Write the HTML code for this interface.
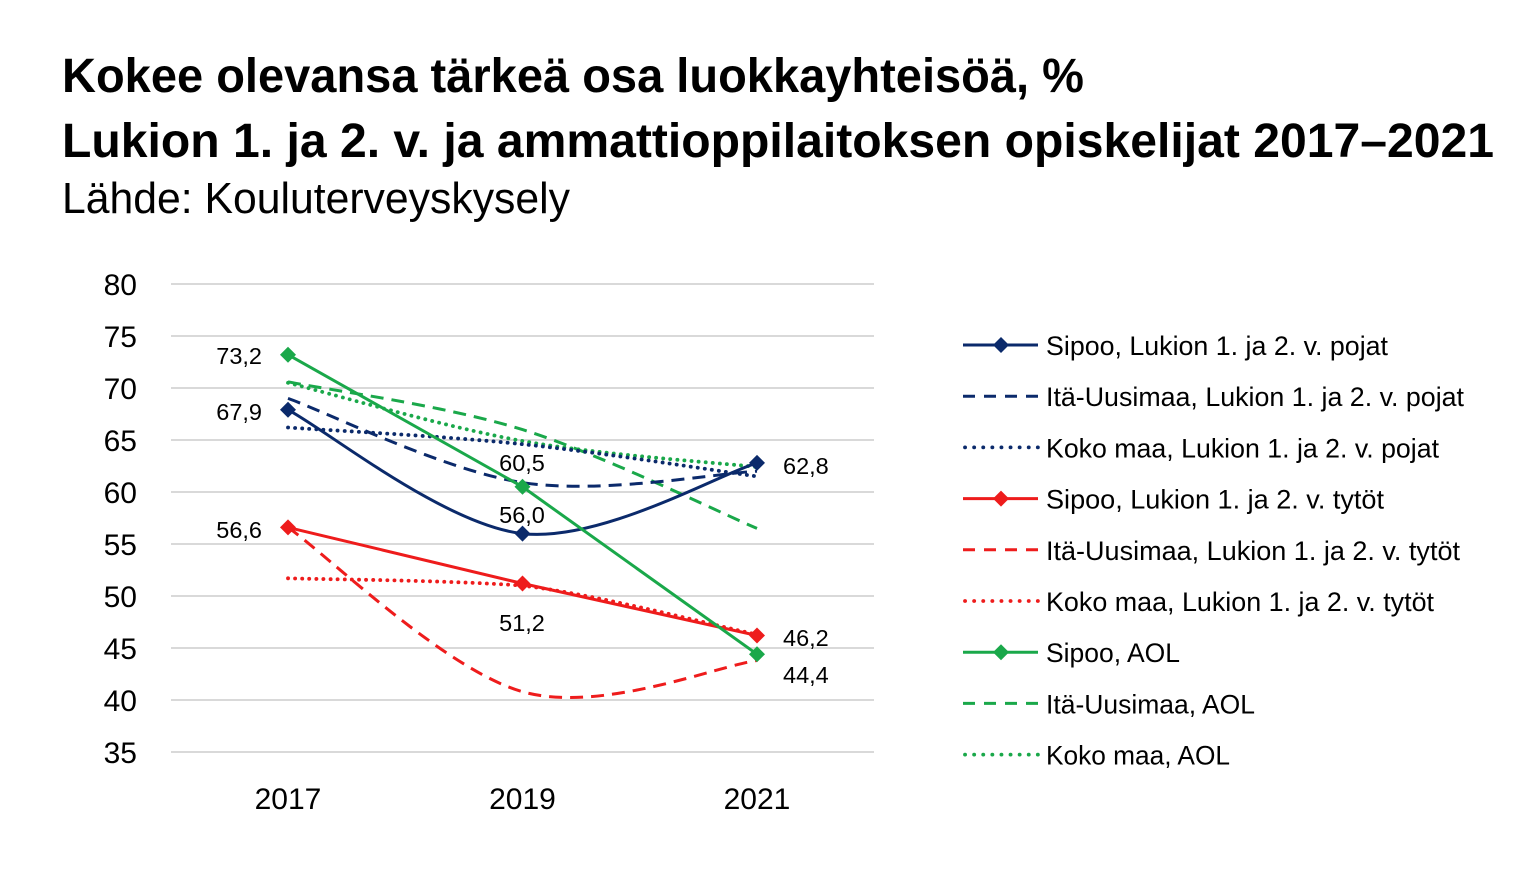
<!DOCTYPE html>
<html>
<head>
<meta charset="utf-8">
<style>
html,body{margin:0;padding:0;background:#fff;}
svg{display:block;}
text{font-family:"Liberation Sans",sans-serif;fill:#000;}
</style>
</head>
<body>
<svg width="1536" height="885" viewBox="0 0 1536 885" xmlns="http://www.w3.org/2000/svg">
<rect width="1536" height="885" fill="#fff"/>
<!-- Titles -->
<text x="62" y="92" font-size="48" font-weight="bold" textLength="1022" lengthAdjust="spacingAndGlyphs">Kokee olevansa tärkeä osa luokkayhteisöä, %</text>
<text x="62" y="157" font-size="48" font-weight="bold" textLength="1432" lengthAdjust="spacingAndGlyphs">Lukion 1. ja 2. v. ja ammattioppilaitoksen opiskelijat 2017–2021</text>
<text x="62" y="213" font-size="44" textLength="508" lengthAdjust="spacingAndGlyphs">Lähde: Kouluterveyskysely</text>

<!-- Grid -->
<g stroke="#d9d9d9" stroke-width="2">
<line x1="171" y1="284" x2="874" y2="284"/>
<line x1="171" y1="336" x2="874" y2="336"/>
<line x1="171" y1="388" x2="874" y2="388"/>
<line x1="171" y1="440" x2="874" y2="440"/>
<line x1="171" y1="492" x2="874" y2="492"/>
<line x1="171" y1="544" x2="874" y2="544"/>
<line x1="171" y1="596" x2="874" y2="596"/>
<line x1="171" y1="648" x2="874" y2="648"/>
<line x1="171" y1="700" x2="874" y2="700"/>
<line x1="171" y1="752" x2="874" y2="752"/>
</g>

<!-- Y axis labels -->
<g font-size="30" text-anchor="end">
<text x="137" y="295">80</text>
<text x="137" y="347">75</text>
<text x="137" y="399">70</text>
<text x="137" y="451">65</text>
<text x="137" y="503">60</text>
<text x="137" y="555">55</text>
<text x="137" y="607">50</text>
<text x="137" y="659">45</text>
<text x="137" y="711">40</text>
<text x="137" y="763">35</text>
</g>
<!-- X axis labels -->
<g font-size="30" text-anchor="middle">
<text x="288" y="809">2017</text>
<text x="522.5" y="809">2019</text>
<text x="757" y="809">2021</text>
</g>

<!-- Series -->
<g fill="none" stroke-width="3">
<path d="M288,381.8 C327.1,389.8 444.3,405.2 522.5,429.6 C600.7,454 717.9,511.9 757,528.4" stroke="#1aa84a" stroke-dasharray="13 8"/>
<path d="M288,382.8 C327.1,392.5 444.3,427 522.5,441 C600.7,455 717.9,462.7 757,467" stroke="#1aa84a" stroke-width="3.8" stroke-linecap="round" stroke-dasharray="0.1 7"/>
<path d="M288,398.4 C327.1,412.4 444.3,470.5 522.5,482.6 C600.7,494.7 717.9,473.1 757,471.2" stroke="#0b2a6b" stroke-dasharray="13 8"/>
<path d="M288,427.5 C327.1,430.3 444.3,436 522.5,444.2 C600.7,452.4 717.9,471 757,476.4" stroke="#0b2a6b" stroke-width="3.8" stroke-linecap="round" stroke-dasharray="0.1 7"/>
<path d="M288,527.4 C327.1,554.8 444.3,669.5 522.5,691.7 C600.7,713.9 717.9,665.7 757,660.5" stroke="#ee1c1c" stroke-dasharray="13 8"/>
<path d="M288,578.3 C327.1,579.5 444.3,580 522.5,585.6 C600.7,595 717.9,626.4 757,634.5" stroke="#ee1c1c" stroke-width="3.8" stroke-linecap="round" stroke-dasharray="0.1 7"/>
<path d="M288,409.8 C327.1,430.4 444.3,524.8 522.5,533.6 C600.7,542.4 717.9,474.7 757,462.9" stroke="#0b2a6b"/>
<path d="M288,527.4 L522.5,583.5 L757,635.5" stroke="#ee1c1c"/>
<path d="M288,354.7 L522.5,486.8 L757,654.2" stroke="#1aa84a"/>
</g>

<!-- Markers -->
<g fill="#0b2a6b">
<path d="M288,401.8 l8,8 l-8,8 l-8,-8z"/>
<path d="M522.5,525.6 l8,8 l-8,8 l-8,-8z"/>
<path d="M757,454.9 l8,8 l-8,8 l-8,-8z"/>
</g>
<g fill="#ee1c1c">
<path d="M288,519.4 l8,8 l-8,8 l-8,-8z"/>
<path d="M522.5,575.5 l8,8 l-8,8 l-8,-8z"/>
<path d="M757,627.5 l8,8 l-8,8 l-8,-8z"/>
</g>
<g fill="#1aa84a">
<path d="M288,346.7 l8,8 l-8,8 l-8,-8z"/>
<path d="M522.5,478.8 l8,8 l-8,8 l-8,-8z"/>
<path d="M757,646.2 l8,8 l-8,8 l-8,-8z"/>
</g>

<!-- Data labels -->
<g font-size="23.5">
<text x="262" y="364" text-anchor="end">73,2</text>
<text x="262" y="420" text-anchor="end">67,9</text>
<text x="262" y="538" text-anchor="end">56,6</text>
<text x="522" y="471" text-anchor="middle">60,5</text>
<text x="522" y="523" text-anchor="middle">56,0</text>
<text x="522" y="631" text-anchor="middle">51,2</text>
<text x="783" y="474">62,8</text>
<text x="783" y="646">46,2</text>
<text x="783" y="683">44,4</text>
</g>

<!-- Legend -->
<g fill="none" stroke-width="3">
<line x1="963" y1="345" x2="1038" y2="345" stroke="#0b2a6b"/>
<line x1="963" y1="396.2" x2="1038" y2="396.2" stroke="#0b2a6b" stroke-dasharray="12 9"/>
<line x1="965" y1="447.4" x2="1038" y2="447.4" stroke="#0b2a6b" stroke-width="3.8" stroke-linecap="round" stroke-dasharray="0.1 9"/>
<line x1="963" y1="498.6" x2="1038" y2="498.6" stroke="#ee1c1c"/>
<line x1="963" y1="549.8" x2="1038" y2="549.8" stroke="#ee1c1c" stroke-dasharray="12 9"/>
<line x1="965" y1="601" x2="1038" y2="601" stroke="#ee1c1c" stroke-width="3.8" stroke-linecap="round" stroke-dasharray="0.1 9"/>
<line x1="963" y1="652.2" x2="1038" y2="652.2" stroke="#1aa84a"/>
<line x1="963" y1="703.4" x2="1038" y2="703.4" stroke="#1aa84a" stroke-dasharray="12 9"/>
<line x1="965" y1="754.6" x2="1038" y2="754.6" stroke="#1aa84a" stroke-width="3.8" stroke-linecap="round" stroke-dasharray="0.1 9"/>
</g>
<path d="M1001,337 l8,8 l-8,8 l-8,-8z" fill="#0b2a6b"/>
<path d="M1001,490.6 l8,8 l-8,8 l-8,-8z" fill="#ee1c1c"/>
<path d="M1001,644.2 l8,8 l-8,8 l-8,-8z" fill="#1aa84a"/>

<g font-size="27">
<text x="1046" y="355" textLength="342" lengthAdjust="spacingAndGlyphs">Sipoo, Lukion 1. ja 2. v. pojat</text>
<text x="1046" y="406.2" textLength="418" lengthAdjust="spacingAndGlyphs">Itä-Uusimaa, Lukion 1. ja 2. v. pojat</text>
<text x="1046" y="457.4" textLength="393" lengthAdjust="spacingAndGlyphs">Koko maa, Lukion 1. ja 2. v. pojat</text>
<text x="1046" y="508.6" textLength="338" lengthAdjust="spacingAndGlyphs">Sipoo, Lukion 1. ja 2. v. tytöt</text>
<text x="1046" y="559.8" textLength="414" lengthAdjust="spacingAndGlyphs">Itä-Uusimaa, Lukion 1. ja 2. v. tytöt</text>
<text x="1046" y="611" textLength="388" lengthAdjust="spacingAndGlyphs">Koko maa, Lukion 1. ja 2. v. tytöt</text>
<text x="1046" y="662.2" textLength="134" lengthAdjust="spacingAndGlyphs">Sipoo, AOL</text>
<text x="1046" y="713.4" textLength="209" lengthAdjust="spacingAndGlyphs">Itä-Uusimaa, AOL</text>
<text x="1046" y="764.6" textLength="184" lengthAdjust="spacingAndGlyphs">Koko maa, AOL</text>
</g>
</svg>
</body>
</html>
